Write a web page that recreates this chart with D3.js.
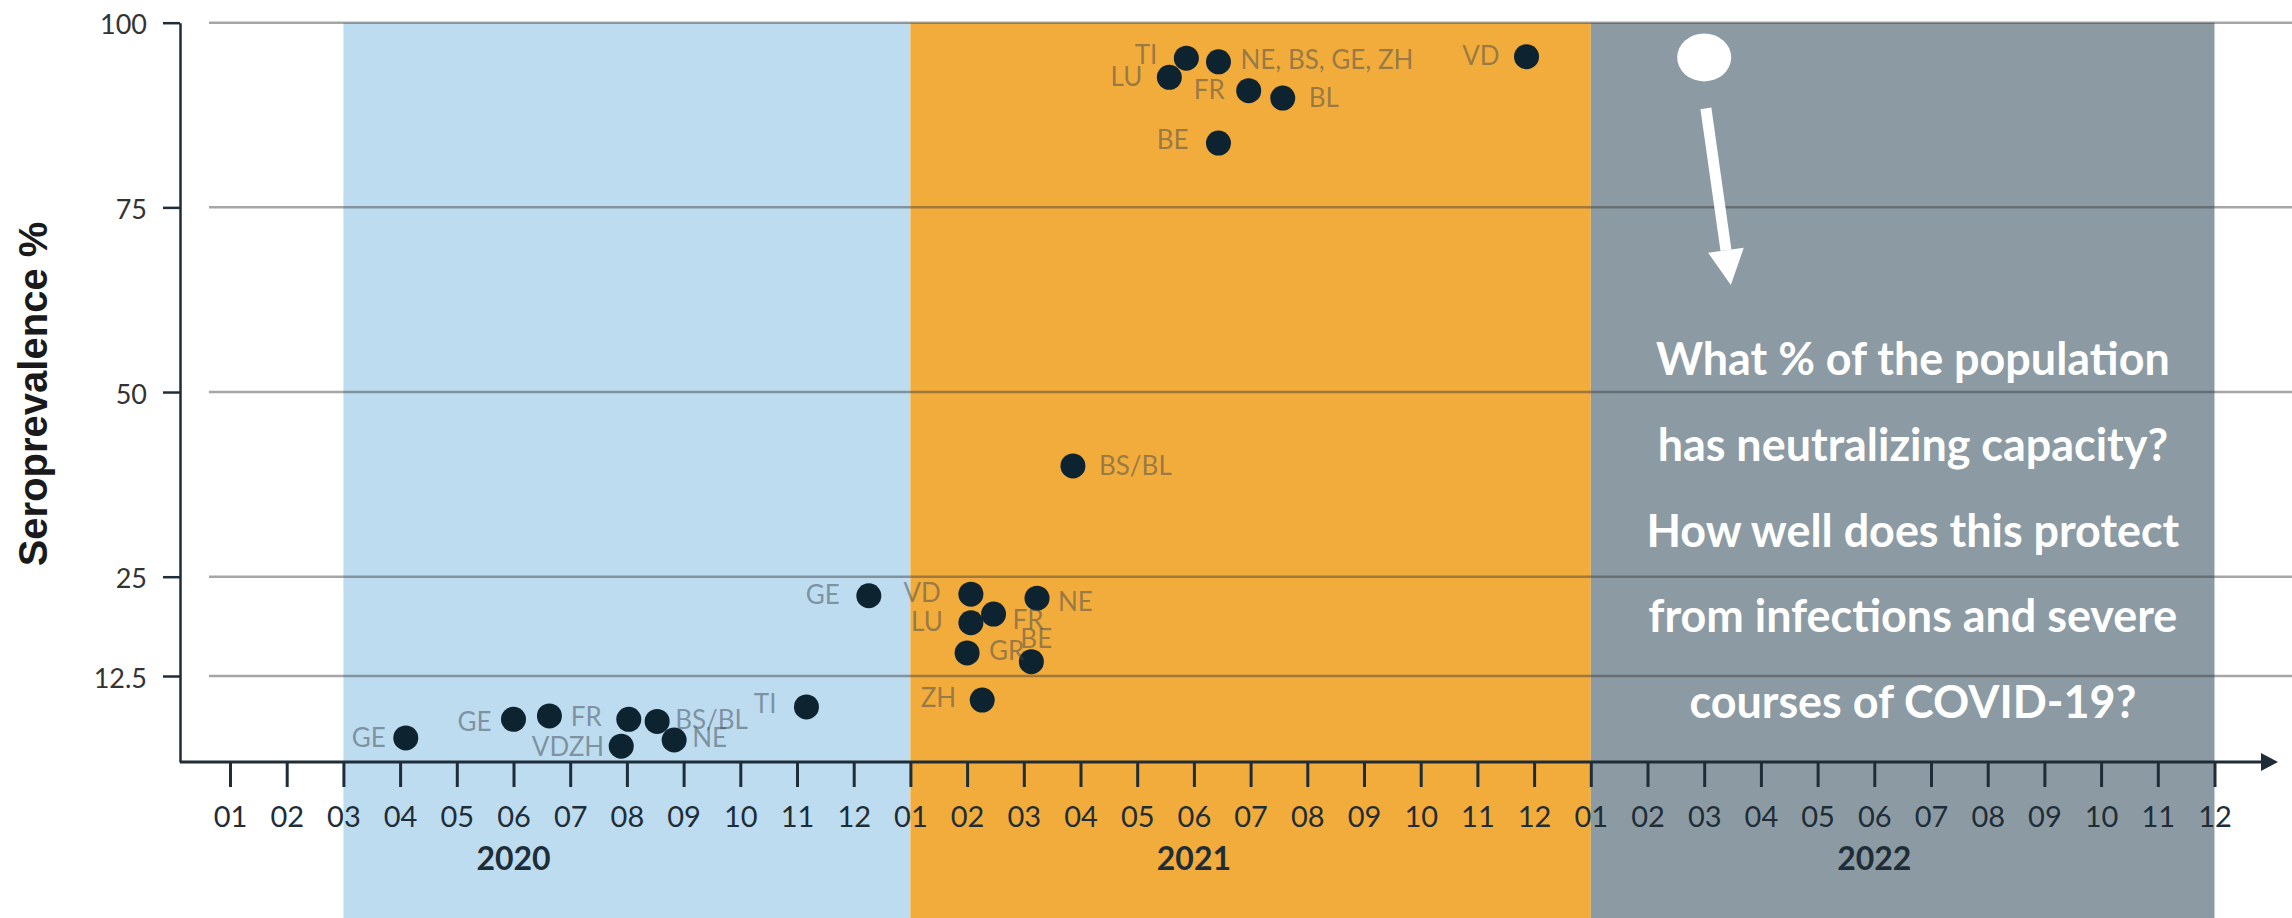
<!DOCTYPE html>
<html><head><meta charset="utf-8">
<script src="https://cdn.jsdelivr.net/npm/d3@7"></script>
<style>
html,body{margin:0;padding:0;background:#fff;}
svg{display:block;}
</style></head>
<body>
<svg id="chart" width="2292" height="918"></svg>
<script>
// ---------------- data ----------------
const monthLabels = ["01","02","03","04","05","06","07","08","09","10","11","12"];
const years = ["2020","2021","2022"];
const yTicks = [12.5, 25, 50, 75, 100];
const yTickLabels = ["12.5","25","50","75","100"];
const phaseStarts = ["2020-03-01","2021-01-01","2022-01-01"];
const phaseEnds   = ["2021-01-01","2022-01-01","2022-12-01"];
const phaseColors = ["#bddcf0","#f2ac3b","#8c9ba3"];

const surveyDates = [
  "2020-04-04","2020-06-01","2020-06-20","2020-08-02","2020-07-28","2020-08-17","2020-08-26","2020-11-06",
  "2020-12-09","2021-02-03","2021-03-08","2021-02-15","2021-02-03","2021-02-01","2021-03-05","2021-02-09",
  "2021-03-27","2021-05-27","2021-05-18","2021-06-14","2021-06-30","2021-07-18","2021-06-14","2021-11-27"
];
const surveyValues = [
  3.5, 6.2, 6.7, 6.2, 2.3, 5.9, 3.2, 8.0,
  22.6, 22.8, 22.3, 20.3, 19.2, 15.4, 14.3, 9.0,
  40.0, 95.2, 92.6, 94.7, 90.8, 89.8, 83.7, 95.4
];
const surveyLabels = [
  "GE","GE","","FR","VDZH","BS/BL","NE","TI",
  "GE","VD","NE","FR","LU","GR","BE","ZH",
  "BS/BL","TI","LU","NE, BS, GE, ZH","FR","BL","BE","VD"
];
// label placement: [anchor, dx px, dy px]
const labelPlacement = [
  ["end",-20,0],["end",-22,2],["end",0,0],["end",-27,-3],["end",-17,0],["start",18,-2],["start",18,-2],["end",-30,-3],
  ["end",-29,-1],["end",-30,-2],["start",21,3],["start",19,6],["end",-28,-1],["start",22,-2],["start",-11,-23],["end",-26,-2],
  ["start",26,0],["end",-29,-4],["end",-27,-1],["start",22,-2],["end",-24,-1],["start",26,0],["end",-30,-4],["end",-27,-1]
];
const questionLines = [
  "What % of the population",
  "has neutralizing capacity?",
  "How well does this protect",
  "from infections and severe",
  "courses of COVID-19?"
];
const yAxisTitle = "Seroprevalence %";

// ---------------- layout ----------------
const W = 2292, H = 918;
const svg = d3.select("#chart");
const monthIndex = s => { const [Y,M,D] = s.split("-").map(Number); return (Y-2020)*12 + (M-1) + ((D||1)-1)/30; };
const x = d3.scaleLinear().domain([0,35]).range([230,2214.5]);
const y = d3.scaleLinear().domain([0,12.5,25,100]).range([762,676,576.7,22.7]);
const axisColor = "#1e2d38";

// phases
svg.append("g").selectAll("rect").data(phaseStarts).join("rect")
  .attr("x", (d)=>x(monthIndex(d)))
  .attr("width", (d,i)=>x(monthIndex(phaseEnds[i])) - x(monthIndex(d)))
  .attr("y", y(100))
  .attr("height", H - y(100))
  .attr("fill", (d,i)=>phaseColors[i]);

// gridlines
svg.append("g").selectAll("line").data(yTicks).join("line")
  .attr("x1", 209).attr("x2", W)
  .attr("y1", d=>y(d)).attr("y2", d=>y(d))
  .attr("stroke", "#3a3a3a").attr("stroke-opacity", 0.45).attr("stroke-width", 2.5);

// y axis
const gy = svg.append("g").attr("transform","translate(180,0)")
  .call(d3.axisLeft(y).tickValues(yTicks).tickFormat((d,i)=>yTickLabels[i]).tickSize(17).tickPadding(16).tickSizeOuter(0));
gy.attr("font-family", null).attr("font-size", null);
gy.select(".domain").attr("stroke", axisColor).attr("stroke-width", 2.5);
gy.selectAll(".tick line").attr("stroke", axisColor).attr("stroke-width", 2.5);
gy.selectAll(".tick text").attr("font-family","Lato, sans-serif").attr("font-size",27).attr("fill","#333").attr("dy","0.41em");

// x axis
const gx = svg.append("g").attr("transform","translate(0,762)")
  .call(d3.axisBottom(x).tickValues(d3.range(36)).tickFormat(i=>monthLabels[i%12]).tickSize(25).tickPadding(19).tickSizeOuter(0));
gx.attr("font-family", null).attr("font-size", null);
gx.select(".domain").remove();
gx.selectAll(".tick line").attr("stroke", axisColor).attr("stroke-width", 3);
gx.selectAll(".tick text").attr("font-family","Lato, sans-serif").attr("font-size",29).attr("fill",axisColor);
svg.append("line").attr("x1",180).attr("x2",2263).attr("y1",762).attr("y2",762)
  .attr("stroke",axisColor).attr("stroke-width",3);
svg.append("path").attr("d","M2261,753 L2278,762 L2261,771 Z").attr("fill",axisColor);

// year labels
svg.append("g").selectAll("text").data(years).join("text")
  .attr("x",(d,i)=>x(i*12+5)).attr("y",870)
  .attr("text-anchor","middle").attr("font-family","Lato, sans-serif").attr("font-weight","bold")
  .attr("font-size",32).attr("fill",axisColor).text(d=>d);

// y axis title
svg.append("text").attr("transform","translate(47,394) rotate(-90)")
  .attr("text-anchor","middle").attr("font-family","Liberation Sans, Arial, sans-serif")
  .attr("font-weight","bold").attr("font-size",40).attr("fill","#1a1a1a").text(yAxisTitle);

// dots
const pts = surveyDates.map((d,i)=>({t:monthIndex(d), v:surveyValues[i], label:surveyLabels[i], p:labelPlacement[i]}));
svg.append("g").selectAll("circle").data(pts).join("circle")
  .attr("cx", d=>x(d.t)).attr("cy", d=>y(d.v)).attr("r",12.5).attr("fill","#0e2330");
svg.append("g").selectAll("text").data(pts.filter(d=>d.label)).join("text")
  .attr("x", d=>x(d.t)+d.p[1]).attr("y", d=>y(d.v)+d.p[2]+9.4)
  .attr("text-anchor", d=>d.p[0])
  .attr("font-family","Lato, sans-serif").attr("font-size",26)
  .attr("fill","#404850").attr("fill-opacity",0.5).text(d=>d.label);

// annotation: circle + arrow + question
const ann = svg.append("g");
ann.append("ellipse").attr("cx",x(26)).attr("cy",y(95.3)).attr("rx",27).attr("ry",24).attr("fill","#fff");
const a0 = [x(26.03), y(88.4)], tip = [x(26.47), y(64.5)];
const dxA = tip[0]-a0[0], dyA = tip[1]-a0[1], L = Math.hypot(dxA,dyA);
const ux = dxA/L, uy = dyA/L, hb = [tip[0]-35*ux, tip[1]-35*uy];
ann.append("line").attr("x1",a0[0]).attr("y1",a0[1]).attr("x2",hb[0]).attr("y2",hb[1])
  .attr("stroke","#fff").attr("stroke-width",11);
ann.append("path").attr("d",`M${tip[0]},${tip[1]} L${hb[0]-18*uy},${hb[1]+18*ux} L${hb[0]+18*uy},${hb[1]-18*ux} Z`).attr("fill","#fff");

const qt = ann.selectAll("text.q").data(questionLines).join("text").attr("class","q")
  .attr("x", x(29.68)).attr("y",(d,i)=>375 + i*85.75)
  .attr("text-anchor","middle").attr("font-family","Lato, sans-serif").attr("font-weight","bold")
  .attr("font-size",45).attr("fill","#fff").text(d=>d);
const w0 = qt.node().getComputedTextLength();
if (w0 > 0) qt.attr("font-size", 45*514/w0);
</script>
</body></html>
